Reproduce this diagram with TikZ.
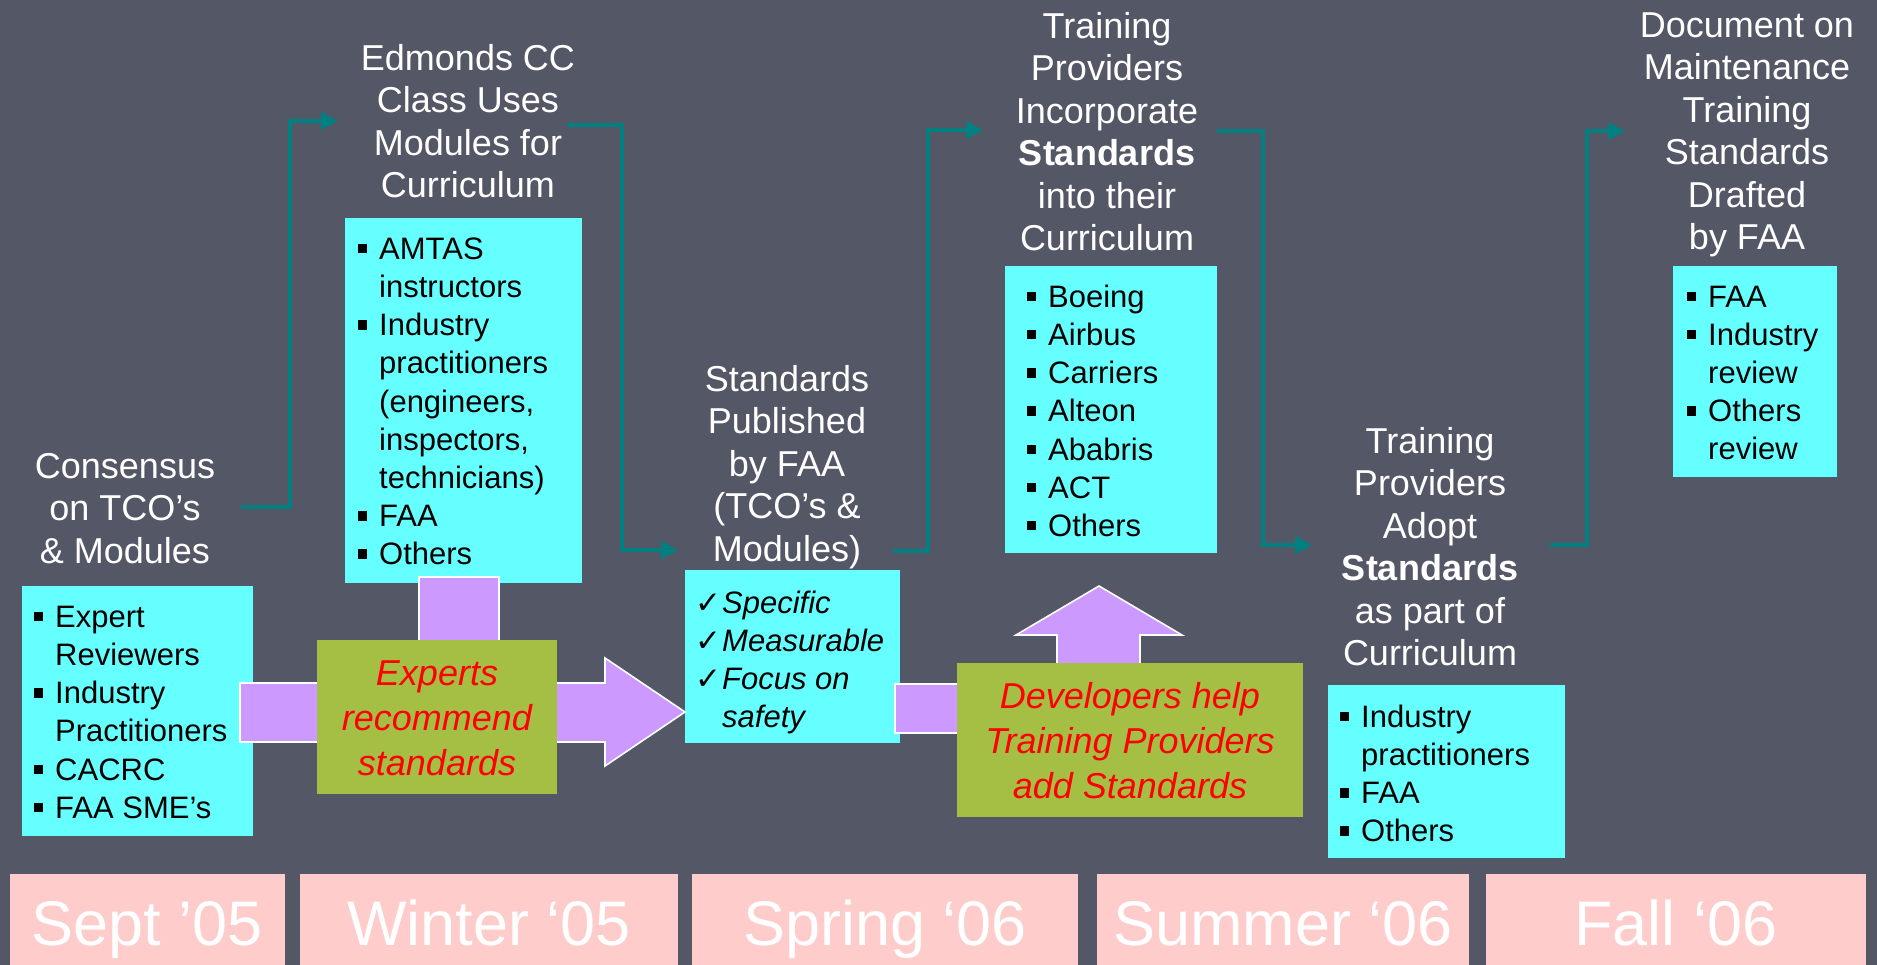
\documentclass[tikz,border=0pt]{standalone}
\usepackage{fontspec}
\setmainfont{Liberation Sans}
\newfontfamily\dejavu{DejaVu Sans}
\usetikzlibrary{arrows.meta}
\definecolor{bg}{RGB}{84,87,102}
\definecolor{cyanbox}{RGB}{102,255,255}
\definecolor{greenbox}{RGB}{165,191,69}
\definecolor{pinkbox}{RGB}{255,204,204}
\definecolor{purp}{RGB}{204,153,255}
\definecolor{tealline}{RGB}{0,128,128}
\newcommand{\hfont}{\fontsize{36}{42.5}\selectfont}
\newcommand{\ifont}{\fontsize{31}{38.2}\selectfont}
\newcommand{\gfont}{\fontsize{36}{45}\selectfont}
\newcommand{\dfont}{\fontsize{63}{70}\selectfont}
\newcommand{\bul}{\llap{\rule[6pt]{9.5pt}{9.5pt}\hspace{12pt}}}
\newcommand{\chk}{\llap{{\upshape\dejavu\fontsize{31}{31}\selectfont ✓}\hspace{1pt}}}
\begin{document}
\begin{tikzpicture}[x=1pt,y=-1pt,
  cbox/.style={fill=cyanbox, draw=none, anchor=north west, inner sep=0pt},
  gbox/.style={fill=greenbox, draw=none, anchor=north west, inner sep=0pt},
  pbox/.style={fill=pinkbox, draw=none, anchor=north west, inner sep=0pt},
  head/.style={anchor=north, align=center, font=\hfont, text=white, inner sep=0pt},
  items/.style={anchor=north west, align=left, font=\ifont, text=black, inner sep=0pt},
  gtext/.style={anchor=north, align=center, font=\gfont\itshape, text=red, inner sep=0pt},
  dtext/.style={anchor=base, font=\dfont, text=white, inner sep=0pt},
  conn/.style={draw=tealline, line width=4.2pt, line join=miter, -{Triangle[length=17pt,width=17pt]}},
  purpshape/.style={fill=purp, draw=white, line width=1.6pt, line join=miter}]
\fill[bg] (0,0) rectangle (1877,965);
\useasboundingbox (0,0) rectangle (1877,965);

% cyan boxes
\node[cbox, minimum width=231pt, minimum height=250pt] (boxA) at (22,586) {};
\node[cbox, minimum width=237pt, minimum height=365pt] (boxB) at (345,218) {};
\node[cbox, minimum width=215pt, minimum height=173pt] (boxC) at (685,570) {};
\node[cbox, minimum width=212pt, minimum height=287pt] (boxD) at (1005,266) {};
\node[cbox, minimum width=237pt, minimum height=173pt] (boxE) at (1328,685) {};
\node[cbox, minimum width=164pt, minimum height=211pt] (boxF) at (1673,266) {};

% purple arrows
\filldraw[purpshape] (240,683) -- (419,683) -- (419,577) -- (499,577) -- (499,683) -- (605,683)
  -- (605,658) -- (685,712) -- (605,766) -- (605,742) -- (240,742) -- cycle;
\filldraw[purpshape] (895,684) -- (1057,684) -- (1057,635) -- (1016,635) -- (1099,586)
  -- (1182,635) -- (1140,635) -- (1140,733) -- (895,733) -- cycle;

% green boxes
\node[gbox, minimum width=240pt, minimum height=154pt] (g1) at (317,640) {};
\node[gbox, minimum width=346pt, minimum height=154pt] (g2) at (957,663) {};
\node[gtext] (g1t) at (437,653.5) {\strut Experts\\recommend\\standards};
\node[gtext] (g2t) at (1130,676.5) {\strut Developers help\\Training Providers\\add Standards};

% date boxes
\node[pbox, minimum width=275pt, minimum height=91pt] (d1) at (10,874) {};
\node[pbox, minimum width=378pt, minimum height=91pt] (d2) at (300,874) {};
\node[pbox, minimum width=386pt, minimum height=91pt] (d3) at (692,874) {};
\node[pbox, minimum width=372pt, minimum height=91pt] (d4) at (1097,874) {};
\node[pbox, minimum width=380pt, minimum height=91pt] (d5) at (1486,874) {};
\node[dtext] (d1t) at (147.5,945) {Sept ’05};
\node[dtext] (d2t) at (489,945) {Winter ‘05};
\node[dtext] (d3t) at (885,945) {Spring ‘06};
\node[dtext] (d4t) at (1283,945) {Summer ‘06};
\node[dtext] (d5t) at (1676,945) {Fall ‘06};

% headings
\node[head] (h1) at (125,448.25) {\strut Consensus\\on TCO’s\\\& Modules};
\node[head] (h2) at (468,40.25) {\strut Edmonds CC\\Class Uses\\Modules for\\Curriculum};
\node[head] (h3) at (787,361.25) {\strut Standards\\Published\\by FAA\\(TCO’s \&\\Modules)};
\node[head] (h4) at (1107,8.25) {\strut Training\\Providers\\Incorporate\\\textbf{Standards}\\into their\\Curriculum};
\node[head] (h5) at (1430,423.25) {\strut Training\\Providers\\Adopt\\\textbf{Standards}\\as part of\\Curriculum};
\node[head] (h6) at (1747,7.25) {\strut Document on\\Maintenance\\Training\\Standards\\Drafted\\by FAA};

% item lists
\node[items] (iA) at (55,600.26) {\strut\bul Expert\\Reviewers\\\bul Industry\\Practitioners\\\bul CACRC\\\bul FAA SME’s};
\node[items] (iB) at (379,232.26) {\strut\bul AMTAS\\instructors\\\bul Industry\\practitioners\\(engineers,\\inspectors,\\technicians)\\\bul FAA\\\bul Others};
\node[items, font=\ifont\itshape] (iC) at (722,586.26) {\strut\chk Specific\\\chk Measurable\\\chk Focus on\\safety};
\node[items] (iD) at (1048,280.26) {\strut\bul Boeing\\\bul Airbus\\\bul Carriers\\\bul Alteon\\\bul Ababris\\\bul ACT\\\bul Others};
\node[items] (iE) at (1361,700.26) {\strut\bul Industry\\practitioners\\\bul FAA\\\bul Others};
\node[items] (iF) at (1708,280.26) {\strut\bul FAA\\\bul Industry\\review\\\bul Others\\review};

% connectors
\coordinate (c1a) at (241,507); \coordinate (c1b) at (338,121);
\coordinate (c2a) at (567,125); \coordinate (c2b) at (678,550);
\coordinate (c3a) at (893,551); \coordinate (c3b) at (983,130);
\coordinate (c4a) at (1217,131); \coordinate (c4b) at (1312,545);
\coordinate (c5a) at (1550,545); \coordinate (c5b) at (1625,131);
\draw[conn] (c1a) -- (290,507) |- (c1b);
\draw[conn] (c2a) -- (622,125) |- (c2b);
\draw[conn] (c3a) -- (928,551) |- (c3b);
\draw[conn] (c4a) -- (1263,131) |- (c4b);
\draw[conn] (c5a) -- (1587,545) |- (c5b);
\end{tikzpicture}
\end{document}
